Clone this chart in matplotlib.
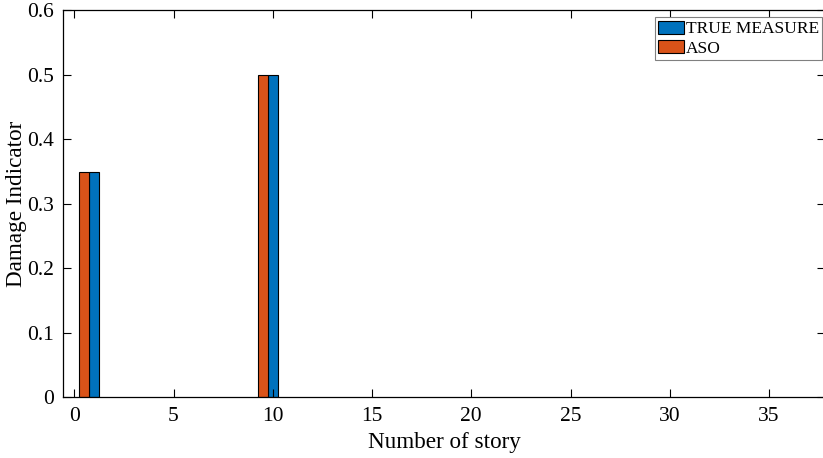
import matplotlib.pyplot as plt

## Data: damaged stories and damage indicator values
stories = [1, 10]
true_measure = [0.35, 0.5]
aso = [0.35, 0.5]
xticks = [0, 5, 10, 15, 20, 25, 30, 35]
yticks = [0, 0.1, 0.2, 0.3, 0.4, 0.5, 0.6]

plt.rcParams['font.family'] = ['Liberation Serif', 'DejaVu Serif']

fig = plt.figure(figsize=(8.23, 4.58), dpi=100)
ax = fig.add_axes([0.077, 0.1325, 0.925, 0.845])

w = 0.5
## Bars: ASO sits just left of the measured value
ax.bar([s - w / 2 for s in stories], true_measure, width=w, align='edge',
       color='#0072BD', edgecolor='black', linewidth=0.8, label='TRUE MEASURE')
ax.bar([s - 1.5 * w for s in stories], aso, width=w, align='edge',
       color='#D95319', edgecolor='black', linewidth=0.8, label='ASO')

ax.set_xlim(-0.55, 37.8)
ax.set_ylim(0, 0.6)
ax.set_xticks(xticks)
ax.set_yticks(yticks)
ax.set_yticklabels(['0', '0.1', '0.2', '0.3', '0.4', '0.5', '0.6'])
ax.tick_params(direction='in', length=6, width=0.8, top=True, right=True,
               labelsize=15.5, pad=7)
for s in ax.spines.values():
    s.set_linewidth(0.9)

ax.set_xlabel('Number of story', fontsize=16.7, labelpad=4)
ax.set_ylabel('Damage Indicator', fontsize=16.7, labelpad=0)

leg = ax.legend(loc='upper right', fontsize=12.5, fancybox=False, framealpha=1,
                edgecolor='#808080', handlelength=1.5, handleheight=0.8,
                handletextpad=0.1, borderpad=0.2, labelspacing=0.15,
                bbox_to_anchor=(0.997, 0.982), borderaxespad=0)
leg.get_frame().set_linewidth(0.8)

plt.savefig('out.png', dpi=100)
